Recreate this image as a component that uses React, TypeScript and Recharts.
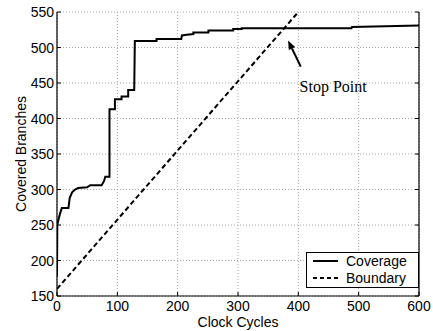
import React from 'react';
import {
  LineChart,
  Line,
  XAxis,
  YAxis,
  CartesianGrid,
  ReferenceLine,
  ReferenceDot,
  Legend,
} from 'recharts';

const FONT = '"Liberation Sans", Arial, Helvetica, sans-serif';
const SERIF = '"Liberation Serif", "Times New Roman", serif';

const xTicks = [0, 100, 200, 300, 400, 500, 600];
const yTicks = [150, 200, 250, 300, 350, 400, 450, 500, 550];

const coverageX = [
  0, 0.5, 2, 5, 8, 19, 21, 25, 30, 35, 50, 55, 74, 78, 80, 86, 87, 87, 96, 96,
  107, 107, 118, 118, 128, 129, 165, 165, 206, 207, 215, 226, 226, 251, 251,
  292, 292, 306, 306, 488, 489, 600,
];
const coverageY = [
  177, 250, 256, 266, 274, 274, 288, 296, 300, 302, 303, 306, 306, 312, 318,
  318, 318, 413, 413, 427, 427, 431, 431, 440, 440, 509, 509, 512, 512, 517,
  518, 519, 521, 521, 524, 524, 526, 526, 527, 527, 529, 531,
];

const boundaryX = [0, 400];
const boundaryY = [160, 550];

const stopArrowFrom = { x: 404, y: 473 };
const stopArrowTo = { x: 383, y: 510 };
const stopLabelAt = { x: 402, y: 438 };
const stopLabel = 'Stop Point';

const seriesNames = ['Coverage', 'Boundary'];

const coverageData = coverageX.map((x, i) => ({ x, y: coverageY[i] }));
const boundaryData = boundaryX.map((x, i) => ({ x, y: boundaryY[i] }));

const BottomTick = (props: any) => {
  const { x, y, payload } = props;
  return (
    <g>
      <line x1={x} y1={y} x2={x} y2={y - 4} stroke="#000" strokeWidth={1} />
      <text x={x} y={y + 15} textAnchor="middle" fontSize={14} fontFamily={FONT} fill="#000">
        {payload.value}
      </text>
    </g>
  );
};

const LeftTick = (props: any) => {
  const { x, y, payload } = props;
  return (
    <g>
      <line x1={x} y1={y} x2={x + 4} y2={y} stroke="#000" strokeWidth={1} />
      <text x={x - 3} y={y + 5} textAnchor="end" fontSize={14} fontFamily={FONT} fill="#000">
        {payload.value}
      </text>
    </g>
  );
};

const TopTick = (props: any) => {
  const { x, y } = props;
  return <line x1={x} y1={y} x2={x} y2={y + 4} stroke="#000" strokeWidth={1} />;
};

const RightTick = (props: any) => {
  const { x, y } = props;
  return <line x1={x} y1={y} x2={x - 4} y2={y} stroke="#000" strokeWidth={1} />;
};

const YLabel = (props: any) => {
  const vb = props.viewBox || { x: 0, y: 12, width: 57, height: 284 };
  const cx = vb.x + 21;
  const cy = vb.y + vb.height / 2;
  return (
    <text
      x={cx}
      y={cy}
      transform={`rotate(-90 ${cx} ${cy})`}
      textAnchor="middle"
      dominantBaseline="central"
      fontSize={14}
      fontFamily={FONT}
      fill="#000"
    >
      Covered Branches
    </text>
  );
};

const XLabel = (props: any) => {
  const vb = props.viewBox || { x: 57, y: 296, width: 362, height: 35 };
  const cx = vb.x + vb.width / 2;
  const cy = vb.y + 31;
  return (
    <text x={cx} y={cy} textAnchor="middle" fontSize={14} fontFamily={FONT} fill="#000">
      Clock Cycles
    </text>
  );
};

const Arrow = (props: any) => {
  const { x1, y1, x2, y2 } = props;
  if ([x1, y1, x2, y2].some((v) => typeof v !== 'number' || isNaN(v))) return <g />;
  const ang = Math.atan2(y2 - y1, x2 - x1);
  const L = 9;
  const W = 3.5;
  const bx = x2 - L * Math.cos(ang);
  const by = y2 - L * Math.sin(ang);
  const px = -Math.sin(ang) * W;
  const py = Math.cos(ang) * W;
  return (
    <g>
      <line x1={x1} y1={y1} x2={bx} y2={by} stroke="#000" strokeWidth={2} />
      <polygon points={`${x2},${y2} ${bx + px},${by + py} ${bx - px},${by - py}`} fill="#000" />
    </g>
  );
};

const StopText = (props: any) => {
  const { cx, cy } = props;
  return (
    <text x={cx} y={cy} fontSize={16} fontFamily={SERIF} fill="#000">
      {stopLabel}
    </text>
  );
};

const LegendBox = () => (
  <div
    style={{
      width: 113,
      height: 36,
      border: '1.5px solid #000',
      background: '#fff',
      boxSizing: 'border-box',
    }}
  >
    <svg width={110} height={33} style={{ display: 'block' }}>
      <line x1={6} x2={31} y1={8} y2={8} stroke="#000" strokeWidth={2} />
      <text x={39} y={13} fontSize={14} fontFamily={FONT} fill="#000">
        {seriesNames[0]}
      </text>
      <line x1={6} x2={31} y1={25} y2={25} stroke="#000" strokeWidth={2} strokeDasharray="4 3" />
      <text x={39} y={30} fontSize={14} fontFamily={FONT} fill="#000">
        {seriesNames[1]}
      </text>
    </svg>
  </div>
);

export default function App() {
  return (
    <div style={{ position: 'absolute', left: 0, top: 0, background: '#fff' }}>
      <LineChart
        width={433}
        height={331}
        margin={{ top: 12, right: 0, bottom: 0, left: 0 }}
      >
        <CartesianGrid stroke="#a8a8a8" strokeDasharray="1 2" strokeWidth={1} />
        <XAxis
          xAxisId={0}
          dataKey="x"
          type="number"
          domain={[0, 600]}
          ticks={xTicks}
          allowDataOverflow
          height={35}
          tickSize={0}
          tickMargin={0}
          tickLine={false}
          axisLine={{ stroke: '#000', strokeWidth: 1.2 }}
          tick={<BottomTick />}
          label={<XLabel />}
        />
        <XAxis
          xAxisId="top"
          orientation="top"
          dataKey="x"
          type="number"
          domain={[0, 600]}
          ticks={xTicks}
          allowDataOverflow
          height={0}
          tickSize={0}
          tickMargin={0}
          tickLine={false}
          axisLine={{ stroke: '#000', strokeWidth: 1.2 }}
          tick={<TopTick />}
        />
        <YAxis
          yAxisId={0}
          type="number"
          domain={[150, 550]}
          ticks={yTicks}
          allowDataOverflow
          width={57}
          tickSize={0}
          tickMargin={0}
          tickLine={false}
          axisLine={{ stroke: '#000', strokeWidth: 1.2 }}
          tick={<LeftTick />}
          label={<YLabel />}
        />
        <YAxis
          yAxisId="right"
          orientation="right"
          type="number"
          domain={[150, 550]}
          ticks={yTicks}
          allowDataOverflow
          width={14}
          tickSize={0}
          tickMargin={0}
          tickLine={false}
          axisLine={{ stroke: '#000', strokeWidth: 1.2 }}
          tick={<RightTick />}
        />
        <Legend
          layout="horizontal"
          verticalAlign="middle"
          align="center"
          content={<LegendBox />}
          wrapperStyle={{ position: 'absolute', left: 306, top: 252, width: 113, height: 36 }}
        />
        <Line
          data={boundaryData}
          dataKey="y"
          type="linear"
          stroke="#000"
          strokeWidth={2}
          strokeDasharray="5 3"
          dot={false}
          activeDot={false}
          isAnimationActive={false}
          name={seriesNames[1]}
        />
        <Line
          data={coverageData}
          dataKey="y"
          type="linear"
          stroke="#000"
          strokeWidth={2}
          dot={false}
          activeDot={false}
          isAnimationActive={false}
          name={seriesNames[0]}
        />
        <ReferenceLine
          segment={[stopArrowFrom, stopArrowTo]}
          stroke="#000"
          shape={(p: any) => <Arrow {...p} />}
        />
        <ReferenceDot
          x={stopLabelAt.x}
          y={stopLabelAt.y}
          r={0}
          shape={(p: any) => <StopText {...p} />}
        />
      </LineChart>
    </div>
  );
}
